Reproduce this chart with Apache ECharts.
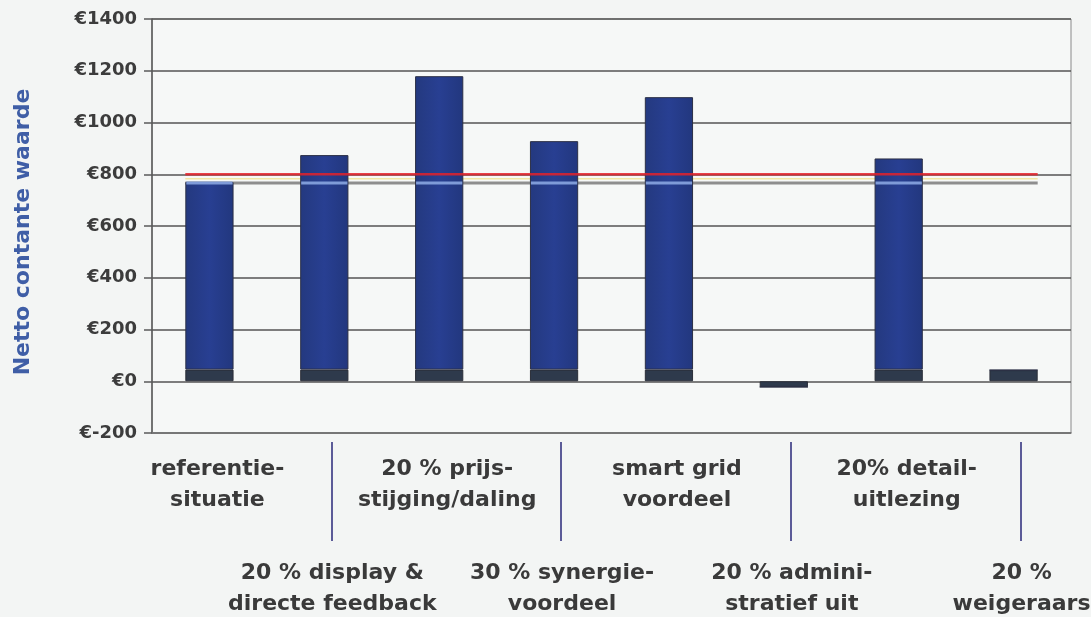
<!DOCTYPE html>
<html>
<head>
<meta charset="utf-8">
<script src="https://cdn.jsdelivr.net/npm/echarts@6/dist/echarts.min.js"></script>
<style>
  html, body { margin: 0; padding: 0; background: #f3f5f4; }
  #chart { width: 1091px; height: 617px; }
</style>
</head>
<body>
<div id="chart"></div>
<script>
// Scenario names (two lines each)
const categories = [
  'referentie-\nsituatie',
  '20 % display &\ndirecte feedback',
  '20 % prijs-\nstijging/daling',
  '30 % synergie-\nvoordeel',
  'smart grid\nvoordeel',
  '20 % admini-\nstratief uit',
  '20% detail-\nuitlezing',
  '20 %\nweigeraars'
];

// Net present value per scenario (euro)
const netValues = [770, 874, 1179, 928, 1098, -22, 861, 43];

// Dark base part of each bar (euro)
const baseValues = [45, 45, 45, 45, 45, -22, 45, 43];

// Horizontal reference levels (euro)
const redLevel = 800;
const yellowLevel = 783;
const greyLevel = 766;

// Y axis range
const yMin = -200, yMax = 1400, yStep = 200;

const upperValues = netValues.map((v, i) => Math.max(v - baseValues[i], 0));

const BAR_RATIO = 0.42;
const FONT = '"DejaVu Sans", sans-serif';

function levelLine(level, color, width, z, opacity) {
  return {
    type: 'custom',
    xAxisIndex: 0, yAxisIndex: 0,
    z: z,
    silent: true,
    data: [[0, level]],
    encode: { x: 0, y: 1 },
    renderItem: function (params, api) {
      const bw = api.size([1, 0])[0] * BAR_RATIO;
      const a = api.coord([0, level]);
      const b = api.coord([categories.length - 1, level]);
      return {
        type: 'line',
        shape: { x1: a[0] - bw / 2, y1: a[1], x2: b[0] + bw / 2, y2: a[1] },
        style: { stroke: color, lineWidth: width, opacity: opacity }
      };
    }
  };
}

const chart = echarts.init(document.getElementById('chart'), null, { renderer: 'canvas' });

chart.setOption({
  backgroundColor: '#f3f5f4',
  animation: false,
  grid: [
    { left: 152, right: 20, top: 19, bottom: 184, outerBoundsMode: 'none', containLabel: false,
      show: true, backgroundColor: '#f6f8f7', borderColor: '#8a8a8a', borderWidth: 1 },
    { left: 159, right: 13, top: 19, bottom: 184, outerBoundsMode: 'none', containLabel: false }
  ],
  xAxis: [
    {
      type: 'category',
      gridIndex: 0,
      data: categories,
      axisLine: { onZero: false, lineStyle: { color: '#7a7a7a', width: 1.5 } },
      axisTick: { show: false },
      axisLabel: {
        interval: 0,
        margin: 21,
        padding: [0, 0, 0, 16],
        formatter: function (value, idx) {
          const lines = value.split('\n').map(s => '{t|' + s + '}').join('\n');
          return idx % 2 === 1 ? '{sp| }\n' + lines : lines;
        },
        rich: {
          t: { fontFamily: FONT, fontWeight: 'bold', fontSize: 22, color: '#3a3a3a', lineHeight: 31, align: 'center' },
          sp: { fontSize: 10, lineHeight: 104 }
        }
      },
      splitLine: { show: false }
    },
    {
      // separators pointing to the lower label row
      type: 'category',
      gridIndex: 1,
      data: categories,
      offset: 9,
      axisLine: { show: false, onZero: false },
      axisLabel: { show: false },
      axisTick: {
        show: true,
        alignWithLabel: true,
        length: 99,
        interval: function (idx) { return idx % 2 === 1; },
        lineStyle: { color: '#5b5b98', width: 2 }
      },
      splitLine: { show: false }
    }
  ],
  yAxis: [
    {
      type: 'value',
      gridIndex: 0,
      min: yMin, max: yMax, interval: yStep,
      name: 'Netto contante waarde',
      nameLocation: 'middle',
      nameRotate: 90,
      nameGap: 118,
      nameTextStyle: { fontFamily: FONT, fontWeight: 'bold', fontSize: 22, color: '#3f5ea6', padding: [0, 12, 0, 0] },
      axisLine: { show: true, lineStyle: { color: '#5a5a5a', width: 1.5 } },
      axisTick: { show: true, length: 8, lineStyle: { color: '#5a5a5a', width: 1.5 } },
      axisLabel: {
        margin: 15,
        formatter: v => '€' + v,
        fontFamily: FONT, fontWeight: 'bold', fontSize: 18, color: '#3c3c3c'
      },
      splitLine: { show: true, lineStyle: { color: '#555555', width: 1.5 } }
    },
    {
      type: 'value',
      gridIndex: 1,
      min: yMin, max: yMax, interval: yStep,
      show: false,
      splitLine: { show: false }
    }
  ],
  series: [
    levelLine(greyLevel, '#8e8e8e', 3, 1, 1),
    levelLine(yellowLevel, '#efe39a', 1.5, 1, 0.9),
    {
      type: 'bar',
      name: 'basis',
      stack: 'npv',
      xAxisIndex: 0, yAxisIndex: 0,
      barWidth: (BAR_RATIO * 100) + '%',
      z: 2,
      data: baseValues,
      itemStyle: { color: '#2e3a4c', borderColor: '#2a2e38', borderWidth: 1 }
    },
    {
      type: 'bar',
      name: 'netto',
      stack: 'npv',
      xAxisIndex: 0, yAxisIndex: 0,
      barWidth: (BAR_RATIO * 100) + '%',
      z: 2,
      data: upperValues,
      itemStyle: {
        color: new echarts.graphic.LinearGradient(0, 0, 1, 0, [
          { offset: 0, color: '#24397f' },
          { offset: 0.5, color: '#283f92' },
          { offset: 1, color: '#22377e' }
        ]),
        borderColor: '#2c3046', borderWidth: 1
      }
    },
    {
      // light band where the grey level crosses the bars
      type: 'custom',
      xAxisIndex: 0, yAxisIndex: 0,
      z: 4,
      silent: true,
      data: netValues.map((v, i) => [i, v]),
      encode: { x: 0, y: 1 },
      renderItem: function (params, api) {
        const v = api.value(1);
        if (v < greyLevel) return null;
        const bw = api.size([1, 0])[0] * BAR_RATIO;
        const p = api.coord([api.value(0), greyLevel]);
        return {
          type: 'rect',
          shape: { x: p[0] - bw / 2 + 1, y: p[1] - 1.5, width: bw - 2, height: 3 },
          style: { fill: '#7f9bd8' }
        };
      }
    },
    levelLine(redLevel, '#e4222a', 2.5, 5, 0.85)
  ]
});
</script>
</body>
</html>
